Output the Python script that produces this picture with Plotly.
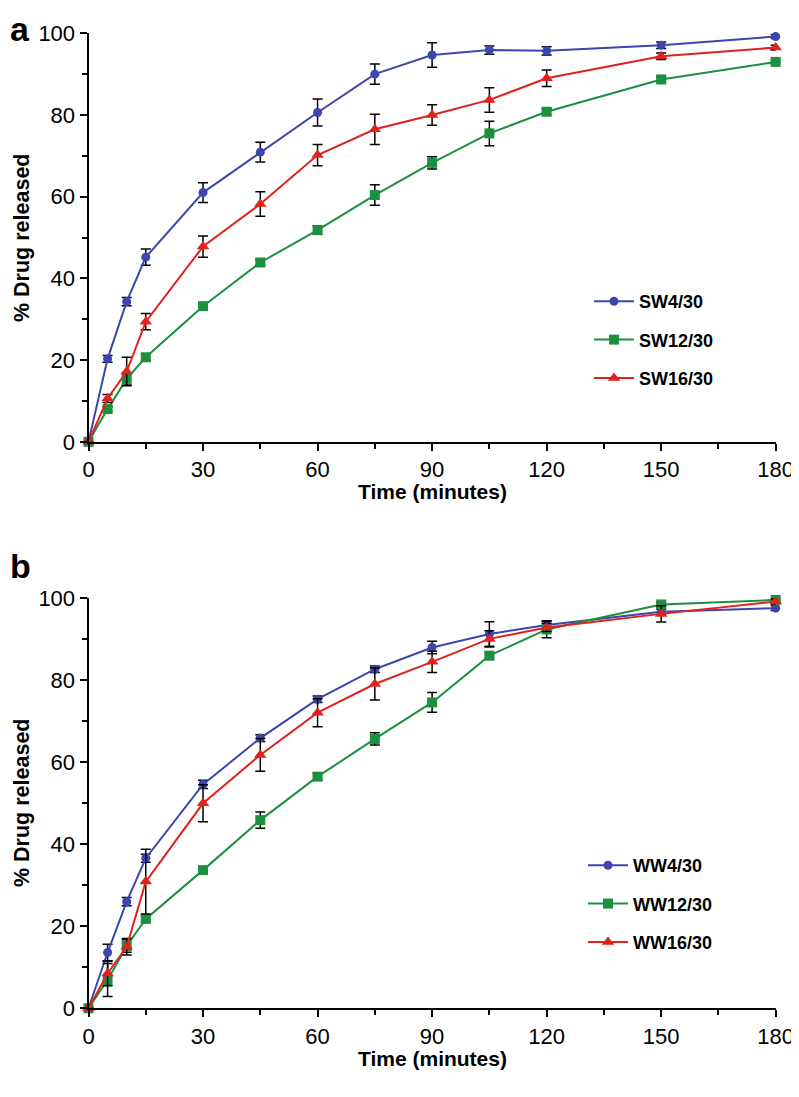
import plotly.graph_objects as go

time = [0, 5, 10, 15, 30, 45, 60, 75, 90, 105, 120, 150, 180]

# Panel a
sw4 = [0, 20.3, 34.3, 45.2, 61.0, 70.9, 80.6, 90.0, 94.7, 95.9, 95.7, 97.1, 99.2]
sw4_err = [0, 0.8, 1.0, 2.0, 2.4, 2.4, 3.3, 2.5, 3.0, 1.0, 1.0, 0.8, 0.5]
sw12 = [0, 8.0, 15.4, 20.7, 33.2, 43.9, 51.8, 60.4, 68.3, 75.5, 80.8, 88.7, 93.0]
sw12_err = [0, 0.6, 1.5, 0.8, 0.8, 0.6, 1.0, 2.5, 1.5, 3.0, 0.8, 0.6, 0.6]
sw16 = [0, 10.6, 17.2, 29.4, 47.8, 58.2, 70.2, 76.5, 80.0, 83.7, 89.0, 94.4, 96.5]
sw16_err = [0, 1.0, 3.5, 2.0, 2.6, 3.0, 2.6, 3.7, 2.5, 3.0, 2.0, 0.8, 0.6]

# Panel b
ww4 = [0, 13.6, 26.0, 36.6, 54.6, 65.9, 75.4, 82.7, 88.0, 91.3, 93.5, 96.7, 97.6]
ww4_err = [0, 2.0, 1.0, 1.0, 1.0, 0.8, 0.8, 0.8, 1.5, 3.0, 1.0, 0.6, 0.6]
ww12 = [0, 6.9, 15.2, 21.8, 33.7, 45.9, 56.5, 65.7, 74.6, 86.0, 92.4, 98.5, 99.6]
ww12_err = [0, 4.0, 1.5, 0.8, 0.8, 2.0, 0.8, 1.5, 2.4, 0.8, 2.0, 0.6, 0.6]
ww16 = [0, 8.5, 15.0, 30.9, 50.0, 61.8, 72.1, 79.1, 84.5, 90.1, 92.9, 96.2, 99.2]
ww16_err = [0, 3.0, 2.0, 7.9, 4.5, 4.0, 3.4, 3.9, 2.6, 2.0, 1.0, 2.0, 0.6]

x_ticks = [0, 30, 60, 90, 120, 150, 180]
y_ticks = [0, 20, 40, 60, 80, 100]

BLUE = "#3D45B0"
GREEN = "#1A9040"
RED = "#E0221C"

# page is 799x1097; the page body has an 8px margin, so the figure is inset
OFF = 8
W, H = 799 - OFF, 1097 - 2 * OFF
FONT = "Liberation Sans, Arial"


def px(x):
    return (x - OFF) / W


def py(y):
    return 1 - (y - OFF) / H


fig = go.Figure()

series = [
    (sw4, sw4_err, "SW4/30", BLUE, "circle", 9, "x", "y", "legend"),
    (sw12, sw12_err, "SW12/30", GREEN, "square", 10, "x", "y", "legend"),
    (sw16, sw16_err, "SW16/30", RED, "triangle-up", 11, "x", "y", "legend"),
    (ww4, ww4_err, "WW4/30", BLUE, "circle", 9, "x2", "y2", "legend2"),
    (ww12, ww12_err, "WW12/30", GREEN, "square", 10, "x2", "y2", "legend2"),
    (ww16, ww16_err, "WW16/30", RED, "triangle-up", 11, "x2", "y2", "legend2"),
]
for vals, err, name, col, sym, size, xa, ya, lg in series:
    fig.add_trace(go.Scatter(
        x=time, y=vals, name="<b>%s</b>" % name, mode="lines+markers",
        line=dict(color=col, width=2),
        marker=dict(symbol=sym, size=size, color=col),
        error_y=dict(type="data", array=err, visible=True, color="black",
                     thickness=1.5, width=5),
        xaxis=xa, yaxis=ya, legend=lg, legendgroup=name,
        cliponaxis=False,
    ))

xdom = [px(88.5), px(775.7)]
ydom_a = [py(441.8), py(33.3)]
ydom_b = [py(1008.3), py(598.3)]

tickfont = dict(family=FONT, size=22, color="black")


def xaxis_cfg(anchor):
    return dict(domain=xdom, range=[0, 180], tickvals=x_ticks, ticks="outside",
                ticklen=7, tickwidth=2, tickcolor="black", showline=True,
                linewidth=2, linecolor="black", showgrid=False, zeroline=False,
                tickfont=tickfont, anchor=anchor, automargin=False,
                ticklabeloverflow="allow",
                minor=dict(tickvals=[15, 45, 75, 105, 135, 165], ticks="outside",
                           ticklen=5, tickwidth=2, tickcolor="black"))


def yaxis_cfg(dom, anchor):
    return dict(domain=dom, range=[0, 100], tickvals=y_ticks, ticks="outside",
                ticklen=7, tickwidth=2, tickcolor="black", showline=True,
                linewidth=2, linecolor="black", showgrid=False, zeroline=False,
                tickfont=tickfont, anchor=anchor, automargin=False,
                ticklabeloverflow="allow",
                minor=dict(tickvals=[10, 30, 50, 70, 90], ticks="outside",
                           ticklen=5, tickwidth=2, tickcolor="black"))


def ann(text, x, y, size, angle=0, xanchor="center", yanchor="middle"):
    return dict(text=text, x=px(x), y=py(y), xref="paper", yref="paper",
                xanchor=xanchor, yanchor=yanchor, showarrow=False, textangle=angle,
                font=dict(family=FONT, size=size, color="black"))


legfont = dict(family=FONT, size=18, color="black")
fig.update_layout(
    width=W, height=H,
    margin=dict(l=0, r=0, t=0, b=0, autoexpand=False),
    plot_bgcolor="white", paper_bgcolor="white",
    xaxis=xaxis_cfg("y"), yaxis=yaxis_cfg(ydom_a, "x"),
    xaxis2=xaxis_cfg("y2"), yaxis2=yaxis_cfg(ydom_b, "x2"),
    legend=dict(x=px(589), y=py(283), xanchor="left", yanchor="top",
                font=legfont, tracegroupgap=12, traceorder="grouped",
                itemwidth=40, bgcolor="rgba(0,0,0,0)"),
    legend2=dict(x=px(583), y=py(847), xanchor="left", yanchor="top",
                 font=legfont, tracegroupgap=12, traceorder="grouped",
                 itemwidth=40, bgcolor="rgba(0,0,0,0)"),
    showlegend=True,
    annotations=[
        ann("<b>a</b>", 8, 8, 34, xanchor="left", yanchor="top"),
        ann("<b>b</b>", 8, 545, 34, xanchor="left", yanchor="top"),
        ann("<b>Time (minutes)</b>", 433, 491, 21),
        ann("<b>Time (minutes)</b>", 433, 1058, 21),
        ann("<b>% Drug released</b>", 22, 238, 21.5, angle=-90),
        ann("<b>% Drug released</b>", 22, 803, 21.5, angle=-90),
    ],
)

fig.write_html("out.html")
